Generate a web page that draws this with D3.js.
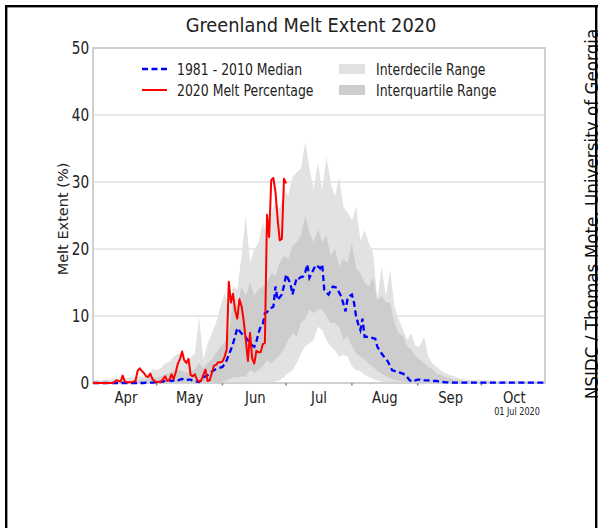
<!DOCTYPE html>
<html><head><meta charset="utf-8">
<script src="https://cdn.jsdelivr.net/npm/d3@7"></script>
<style>html,body{margin:0;padding:0;background:#fff;} svg{display:block;font-family:"DejaVu Sans",sans-serif;}</style>
</head><body><svg id="c" width="598" height="528"></svg>
<script>
// ---------- DATA ----------
const titleText = "Greenland Melt Extent 2020";
const yLabel = "Melt Extent (%)";
const creditText = "NSIDC / Thomas Mote, University of Georgia";
const dateStamp = "01 Jul 2020";
const monthLabels = ["Apr","May","Jun","Jul","Aug","Sep","Oct"];
const yTicks = [0,10,20,30,40,50];
const seriesNames = ["1981 - 2010 Median","2020 Melt Percentage","Interdecile Range","Interquartile Range"];

// daily values from 1 April 2020
const melt2020 = [0,0,0,0,0,0,0,0,0,0,
 0.1,0.4,0.3,0.2,1.1,0.2,0.1,0.1,0.1,0.2,
 0.3,1.8,2.2,1.8,1.5,1.0,0.9,1.4,0.6,0.3,
 0.1,0.2,0.1,0.6,1.0,0.3,0.5,1.3,0.6,1.6,
 2.9,3.6,4.7,3.4,3.0,3.6,1.2,1.0,1.3,0.5,
 0.2,0.4,1.2,2.0,0.3,0.4,1.5,2.6,2.7,3.1,
 3.1,3.2,3.9,5.0,15.1,12.0,13.3,10.8,9.6,12.5,
 11.5,9.3,6.4,3.3,7.5,3.7,2.9,4.8,4.6,4.6,
 5.8,6.0,25.1,21.8,30.3,30.6,28.5,24.5,21.3,21.5,
 30.5,29.8];

// daily 1981-2010 median, 1 April - 31 October
const median = [0,0,0,0,0,0,0,0,0,0,
 0,0,0,0,0,0,0,0,0,0,
 0,0,0,0,0,0.05,0.05,0.05,0.05,0.1,
 0.1,0.1,0.2,0.2,0.3,0.3,0.4,0.3,0.4,0.5,
 0.4,0.5,0.6,0.5,0.4,0.5,0.5,0.3,0.2,0.2,
 0.15,0.4,0.8,1.0,1.15,1.4,1.7,1.9,2.1,2.2,
 2.3,2.4,2.8,3.4,4.2,5.0,5.9,7.0,8.2,7.8,
 7.4,7.1,6.8,6.4,6.0,5.6,5.4,6.2,7.5,8.4,
 8.7,10.4,10.6,10.9,11.2,11.4,14.4,12.4,12.8,13.2,
 14.5,16.2,15.5,14.9,13.2,14.5,15.7,15.6,15.8,15.9,
 16.5,17.7,15.7,16.3,17.0,17.6,17.4,17.1,17.7,13.9,
 13.5,13.2,13.8,14.4,14.3,14.2,13.5,12.9,11.8,10.7,
 12.7,13.0,13.2,12.0,9.9,8.8,7.9,9.6,6.9,6.9,
 6.8,6.8,6.7,6.6,5.4,4.9,4.4,4.0,3.6,3.2,
 2.5,1.9,1.8,1.7,1.6,1.5,1.4,1.2,0.9,0.5,
 0.2,0.3,0.4,0.5,0.5,0.4,0.4,0.4,0.4,0.3,
 0.3,0.3,0.3,0.2,0.2,0.15,0.1,0.1,0.05,0.05,
 0.05,0.05,0.05,0.05,0.05,0.05,0.05,0.05,0.05,0.05,
 0.05,0.05,0.05,0.05,0.05,0.05,0.05,0.05,0.05,0.05,
 0.05,0.05,0.05,0.05,0.05,0.05,0.05,0.05,0.05,0.05,
 0.05,0.05,0.05,0.05,0.05,0.05,0.05,0.05,0.05,0.05,
 0.05,0.05,0.05,0.05];

// percentile bands, sampled every 2nd day from 1 April
const bandStepDays = 2;
const decileHigh = [0.4,0.5,0.4,0.6,0.5,0.7,0.6,0.8,0.7,0.9,
 0.8,1.0,0.9,1.2,2.1,1.9,2.2,2.9,3.2,3.9,
 4.4,4.0,3.2,3.8,4.4,9.9,3.5,5.9,7.4,9.0,
 11.4,13.4,11.4,14.4,13.9,19.0,25.0,18.0,19.9,20.9,
 23.9,21.9,25.4,27.0,26.0,29.0,28.0,30.8,31.4,32.0,
 36.0,32.0,29.0,32.8,28.7,33.8,30.0,27.8,30.8,26.3,
 25.5,24.3,26.3,21.3,22.8,20.9,19.4,12.4,17.4,12.9,
 16.9,11.5,9.5,8.0,6.5,7.4,5.5,5.5,6.9,3.9,
 2.9,2.4,1.9,1.5,1.2,1.0,0.8,0.6,0.5,0.5,
 0.4,0.4,0.4,0.4,0.4,0.3,0.3,0.4,0.3,0.3,
 0.4,0.3,0.3,0.3,0.3,0.3,0.3];
const quartileHigh = [0.1,0.1,0.1,0.2,0.1,0.2,0.2,0.3,0.2,0.3,
 0.3,0.4,0.4,0.6,0.9,0.8,1.0,1.3,1.5,1.8,
 2.0,1.8,1.5,1.7,2.0,3.0,2.2,3.0,3.5,4.5,
 5.4,6.0,7.4,12.4,11.5,14.4,13.0,15.0,13.0,14.0,
 14.4,15.0,16.4,16.0,18.0,19.0,18.5,20.4,21.0,22.0,
 25.0,22.4,21.0,23.0,21.0,22.0,19.0,20.0,17.4,18.5,
 18.0,20.9,17.0,16.4,15.0,14.4,15.9,12.4,13.0,12.0,
 12.0,9.0,7.5,7.0,5.5,5.0,4.0,3.5,3.0,2.4,
 2.0,1.4,1.2,0.9,0.7,0.5,0.4,0.3,0.3,0.2,
 0.2,0.2,0.2,0.2,0.15,0.15,0.1,0.1,0.1,0.1,
 0.1,0.1,0.1,0.1,0.1,0.1,0.1];
const quartileLow = [0,0,0,0,0,0,0,0,0,0,
 0,0,0,0,0,0,0,0,0,0,
 0,0,0,0,0,0,0,0,0.05,0.1,
 0.15,0.3,0.5,0.9,0.8,1.0,0.9,2.0,1.5,1.9,
 2.5,3.4,2.9,3.5,4.2,5.0,6.4,7.4,7.0,9.0,
 9.5,11.0,10.4,11.0,10.9,10.0,8.9,9.0,8.4,6.4,
 7.0,5.5,4.4,4.0,3.5,2.9,2.4,1.8,1.4,1.0,
 0.7,0.5,0.3,0.2,0.15,0,0,0,0,0,
 0,0,0,0,0,0,0,0,0,0,
 0,0,0,0,0,0,0,0,0,0,
 0,0,0,0,0,0,0];
const decileLow = [0,0,0,0,0,0,0,0,0,0,
 0,0,0,0,0,0,0,0,0,0,
 0,0,0,0,0,0,0,0,0,0,
 0,0,0,0,0,0,0,0,0,0,
 0,0,0.1,0.2,0.4,0.9,1.5,1.9,3.0,4.4,
 5.5,5.9,6.5,8.4,7.9,6.4,5.5,4.9,3.9,4.2,
 3.9,2.5,1.9,1.8,1.2,0.9,0.6,0.4,0.2,0.15,
 0,0,0,0,0,0,0,0,0,0,
 0,0,0,0,0,0,0,0,0,0,
 0,0,0,0,0,0,0,0,0,0,
 0,0,0,0,0,0,0];

// ---------- DRAW ----------
const svg = d3.select("#c");
const W = 598, H = 528;
const plot = {left: 93, right: 545, top: 48, bottom: 383};
const start = Date.UTC(2020, 3, 1);
const end = Date.UTC(2020, 9, 31);
const DAY = 864e5;
const dayDate = d => new Date(start + d * DAY);

const x = d3.scaleUtc().domain([new Date(start), new Date(end)]).range([plot.left, plot.right]);
const y = d3.scaleLinear().domain([0, 50]).range([plot.bottom, plot.top]);

svg.append("rect").attr("width", W).attr("height", H).attr("fill", "#fff");

// grid
svg.append("g").selectAll("line").data(yTicks.filter(t => t > 0 && t < 50)).join("line")
  .attr("x1", plot.left).attr("x2", plot.right)
  .attr("y1", d => y(d)).attr("y2", d => y(d))
  .attr("stroke", "#e8e8e8").attr("stroke-width", 2);

// bands
const bandIdx = d3.range(decileHigh.length);
const area = (lo, hi) => d3.area()
  .x(i => x(dayDate(i * bandStepDays)))
  .y0(i => y(lo[i])).y1(i => y(hi[i]));
svg.append("path").datum(bandIdx).attr("d", area(decileLow, decileHigh)(bandIdx))
  .attr("fill", "#e2e2e2");
svg.append("path").datum(bandIdx).attr("d", area(quartileLow, quartileHigh)(bandIdx))
  .attr("fill", "#cdcdcd");

// spines
svg.append("rect").attr("x", plot.left).attr("y", plot.top)
  .attr("width", plot.right - plot.left).attr("height", plot.bottom - plot.top)
  .attr("fill", "none").attr("stroke", "#d0d0d0").attr("stroke-width", 2);

// month boundary tick marks
const monthStarts = d3.utcMonth.range(new Date(start + DAY), new Date(end));
svg.append("g").selectAll("line").data(monthStarts).join("line")
  .attr("x1", d => x(d)).attr("x2", d => x(d))
  .attr("y1", plot.bottom).attr("y2", plot.bottom + 2.5)
  .attr("stroke", "#888").attr("stroke-width", 1.5);

// lines
const line = d3.line().x((v, i) => x(dayDate(i))).y(v => y(v));
svg.append("path").attr("d", line(median)).attr("fill", "none")
  .attr("stroke", "#0000ff").attr("stroke-width", 2.3).attr("stroke-dasharray", "6,3.5");
svg.append("path").attr("d", line(melt2020)).attr("fill", "none")
  .attr("stroke", "#ff0000").attr("stroke-width", 2).attr("stroke-linejoin", "round");

// axes
const monthStartsAll = d3.utcMonth.range(new Date(start), new Date(end));
const midMonths = monthStartsAll.map(m => new Date(+m + 15.3 * DAY));
const xAxis = svg.append("g").attr("transform", `translate(0,${plot.bottom})`)
  .call(d3.axisBottom(x).tickValues(midMonths).tickSize(0).tickPadding(8)
    .tickFormat((d, i) => monthLabels[i]));
xAxis.select(".domain").remove();
xAxis.selectAll("text").attr("font-size", 16.5).attr("font-family", "DejaVu Sans")
  .attr("fill", "#222").attr("transform", "scale(0.8,1)");

const yAxis = svg.append("g").attr("transform", `translate(${plot.left},0)`)
  .call(d3.axisLeft(y).tickValues(yTicks).tickSize(0).tickPadding(5));
yAxis.select(".domain").remove();
yAxis.selectAll("text").attr("font-size", 17.5).attr("font-family", "DejaVu Sans")
  .attr("fill", "#222").attr("transform", "scale(0.78,1)");

// text helper
function label(str, tx, ty, size, anchor, sx, rot) {
  return svg.append("text")
    .attr("transform", `translate(${tx},${ty})` + (rot ? ` rotate(${rot})` : "") + ` scale(${sx},1)`)
    .attr("text-anchor", anchor).attr("font-size", size).attr("fill", "#222").text(str);
}
label(titleText, 311, 32, 20, "middle", 0.89);
label(dateStamp, 517, 415, 10, "middle", 0.81);
label(yLabel, 68, 219, 14.5, "middle", 1, -90);
label(creditText, 598, 214, 16.8, "middle", 1, -90).attr("fill", "#111");

// legend
const lg = svg.append("g");
lg.append("line").attr("x1", 142).attr("x2", 167).attr("y1", 69).attr("y2", 69)
  .attr("stroke", "#0000ff").attr("stroke-width", 2.3).attr("stroke-dasharray", "6,3.5");
lg.append("line").attr("x1", 142).attr("x2", 167).attr("y1", 90).attr("y2", 90)
  .attr("stroke", "#ff0000").attr("stroke-width", 2);
lg.append("rect").attr("x", 339).attr("y", 64).attr("width", 26).attr("height", 10).attr("fill", "#e2e2e2");
lg.append("rect").attr("x", 339).attr("y", 85).attr("width", 26).attr("height", 10).attr("fill", "#cdcdcd");
label(seriesNames[0], 177, 75, 16, "start", 0.78);
label(seriesNames[1], 177, 96, 16, "start", 0.78);
label(seriesNames[2], 376, 75, 16, "start", 0.78);
label(seriesNames[3], 376, 96, 16, "start", 0.78);

// outer frame
svg.append("rect").attr("x", 5).attr("y", 5).attr("width", 593).attr("height", 2.4).attr("fill", "#000");
svg.append("rect").attr("x", 5).attr("y", 5).attr("width", 2.4).attr("height", H - 5).attr("fill", "#000");
svg.append("rect").attr("x", 595).attr("y", 5).attr("width", 2.4).attr("height", H - 5).attr("fill", "#000");
</script></body></html>
